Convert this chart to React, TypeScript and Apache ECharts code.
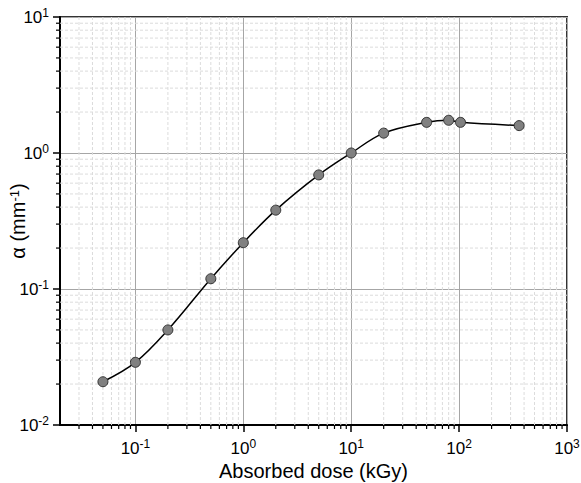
import React, { useEffect, useRef } from "react";
import * as echarts from "echarts";

const doseKGy = [0.05, 0.1, 0.2, 0.5, 1, 2, 5, 10, 20, 50, 80, 103, 360];
const alphaPerMm = [0.0208, 0.0289, 0.05, 0.119, 0.219, 0.38, 0.69, 1.0, 1.4, 1.68, 1.74, 1.68, 1.59];

const xMin = 0.02;
const xMax = 1000;
const yMin = 0.01;
const yMax = 10;

const xMinorValues = [
  0.03, 0.04, 0.05, 0.06, 0.07, 0.08, 0.09,
  0.2, 0.3, 0.4, 0.5, 0.6, 0.7, 0.8, 0.9,
  2, 3, 4, 5, 6, 7, 8, 9,
  20, 30, 40, 50, 60, 70, 80, 90,
  200, 300, 400, 500, 600, 700, 800, 900,
];
const yMinorValues = [
  0.02, 0.03, 0.04, 0.05, 0.06, 0.07, 0.08, 0.09,
  0.2, 0.3, 0.4, 0.5, 0.6, 0.7, 0.8, 0.9,
  2, 3, 4, 5, 6, 7, 8, 9,
];

const FONT = "'Liberation Sans', Arial, sans-serif";

function powLabel(v: number) {
  const l = Math.log10(v);
  const e = Math.round(l);
  if (Math.abs(l - e) > 1e-6) return "";
  return `10{sup|${e}}`;
}

const labelRich = {
  sup: { fontSize: 12, fontFamily: FONT, color: "#000", verticalAlign: "top", padding: [0, 0, 8, 0] },
};

export default function App() {
  const ref = useRef<HTMLDivElement>(null);
  useEffect(() => {
    document.body.style.margin = "0";
    if (!ref.current) return;
    const chart = echarts.init(ref.current, undefined, { renderer: "svg" });
    const minorGridColor = "#dcdcdc";
    chart.setOption({
      animation: false,
      backgroundColor: "#fff",
      grid: {
        left: 60,
        right: 14,
        top: 17,
        bottom: 58,
        containLabel: false,
        outerBoundsMode: "none",
        show: true,
        borderColor: "#333",
        borderWidth: 2,
        backgroundColor: "transparent",
      },
      xAxis: {
        type: "log",
        logBase: 10,
        min: xMin,
        max: xMax,
        name: "Absorbed dose (kGy)",
        nameLocation: "middle",
        nameGap: 34,
        nameTextStyle: { fontSize: 20, fontFamily: FONT, color: "#000" },
        axisLine: { show: true, lineStyle: { color: "#000", width: 2 } },
        axisTick: { show: true, inside: false, length: 7, lineStyle: { color: "#000", width: 1.5 } },
        splitLine: { show: true, lineStyle: { color: "#a6a6a6", width: 1 } },
        axisLabel: {
          formatter: powLabel,
          margin: 13,
          fontSize: 17,
          fontFamily: FONT,
          color: "#000",
          rich: labelRich,
          showMinLabel: false,
        },
      },
      yAxis: {
        type: "log",
        logBase: 10,
        min: yMin,
        max: yMax,
        name: "α (mm{sup|-1})",
        nameLocation: "middle",
        nameGap: 32,
        nameMoveOverlap: false,
        nameTextStyle: {
          fontSize: 20,
          fontFamily: FONT,
          color: "#000",
          rich: { sup: { fontSize: 13, fontFamily: FONT, color: "#000", verticalAlign: "top" } },
        },
        axisLine: { show: true, lineStyle: { color: "#000", width: 2 } },
        axisTick: { show: true, inside: false, length: 7, lineStyle: { color: "#000", width: 1.5 } },
        splitLine: { show: true, lineStyle: { color: "#a6a6a6", width: 1 } },
        axisLabel: {
          formatter: powLabel,
          margin: 11,
          fontSize: 17,
          fontFamily: FONT,
          color: "#000",
          rich: labelRich,
        },
      },
      series: [
        {
          type: "custom",
          z: 1,
          silent: true,
          clip: false,
          data: xMinorValues.map((v) => [v, 1]),
          renderItem: (params: any, api: any) => {
            const v = api.value(0);
            const top = api.coord([v, yMax]);
            const bot = api.coord([v, yMin]);
            return {
              type: "group",
              children: [
                {
                  type: "line",
                  shape: { x1: top[0], y1: top[1], x2: bot[0], y2: bot[1] },
                  style: { stroke: minorGridColor, lineWidth: 1, lineDash: [3, 2] },
                },
                {
                  type: "line",
                  shape: { x1: bot[0], y1: bot[1], x2: bot[0], y2: bot[1] + 4 },
                  style: { stroke: "#000", lineWidth: 1.2 },
                },
              ],
            };
          },
        },
        {
          type: "custom",
          z: 1,
          silent: true,
          clip: false,
          data: yMinorValues.map((v) => [1, v]),
          renderItem: (params: any, api: any) => {
            const v = api.value(1);
            const l = api.coord([xMin, v]);
            const r = api.coord([xMax, v]);
            return {
              type: "group",
              children: [
                {
                  type: "line",
                  shape: { x1: l[0], y1: l[1], x2: r[0], y2: r[1] },
                  style: { stroke: minorGridColor, lineWidth: 1, lineDash: [3, 2] },
                },
                {
                  type: "line",
                  shape: { x1: l[0] - 4, y1: l[1], x2: l[0], y2: l[1] },
                  style: { stroke: "#000", lineWidth: 1.2 },
                },
              ],
            };
          },
        },
        {
          type: "line",
          z: 3,
          data: doseKGy.map((d, i) => [d, alphaPerMm[i]]),
          smooth: 0.35,
          lineStyle: { color: "#000", width: 1.5 },
          symbol: "circle",
          symbolSize: 10,
          itemStyle: { color: "#808080", borderColor: "#333", borderWidth: 1 },
        },
      ],
    });
    return () => chart.dispose();
  }, []);
  return <div ref={ref} style={{ width: 581, height: 483 }} />;
}
